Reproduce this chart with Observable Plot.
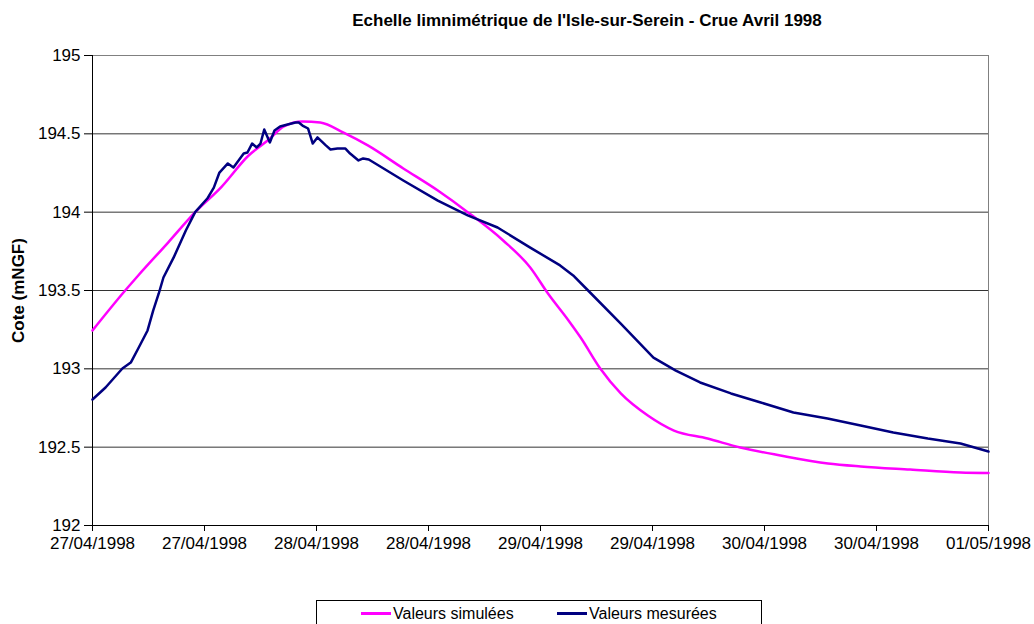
<!DOCTYPE html>
<html><head><meta charset="utf-8">
<script src="https://cdn.jsdelivr.net/npm/d3@7"></script>
<script src="https://cdn.jsdelivr.net/npm/@observablehq/plot@0.6"></script>
<style>
body{margin:0;background:#fff;font-family:"Liberation Sans",Arial,sans-serif;}
#wrap{position:relative;width:1034px;height:624px;overflow:hidden;background:#fff;}
#title{position:absolute;left:140px;width:894px;top:11px;text-align:center;font-weight:bold;font-size:17px;line-height:20px;color:#000;}
#chart{position:absolute;left:0;top:0;}
#legend{position:absolute;left:316px;top:600px;width:446px;height:40px;border:1px solid #000;box-sizing:border-box;}
.li{position:absolute;top:3px;font-size:16px;line-height:20px;color:#000;white-space:nowrap;}
.sw{display:inline-block;width:30px;height:3px;vertical-align:middle;margin-right:2px;position:relative;top:-1px;}
</style>
</head><body>
<div id="wrap">
  <div id="chart"></div>
  <div id="title"></div>
  <div id="legend"></div>
</div>
<script>
const chartTitle = "Echelle limnimétrique de l'Isle-sur-Serein - Crue Avril 1998";
const yLabel = "Cote (mNGF)";
const seriesNames = ["Valeurs simulées", "Valeurs mesurées"];
const seriesColors = ["#FF00FF", "#000080"];
const startDate = Date.UTC(1998, 3, 27);
const xTickHours = [0, 12, 24, 36, 48, 60, 72, 84, 96];
const yTicks = [192, 192.5, 193, 193.5, 194, 194.5, 195];
const gridValues = [192.5, 193, 193.5, 194, 194.5];

// Simulated values (hours since 27/04/1998 00:00)
const simHours = [0, 3.5, 4.9, 8.1, 11.0, 13.8, 16.7, 18.9, 20.5, 22.5, 24.4, 26.9, 29.5, 33.3, 37.0, 40.2, 44.0, 46.9, 48.8, 51.0, 52.3, 54.4, 56.6, 59.5, 62.3, 65.9, 69.4, 73.7, 78.8, 82.3, 87.6, 93.0, 96];
const simValues = [193.245, 193.5, 193.596, 193.806, 194.0, 194.16, 194.36, 194.464, 194.547, 194.579, 194.572, 194.508, 194.426, 194.279, 194.138, 194.0, 193.819, 193.647, 193.481, 193.309, 193.2, 193.002, 192.843, 192.702, 192.606, 192.555, 192.498, 192.447, 192.396, 192.377, 192.357, 192.338, 192.335];

// Measured values
const mesHours = [0, 1.4, 3.2, 4.1, 4.9, 5.9, 6.5, 7.1, 7.6, 8.7, 10.0, 11.0, 12.3, 13.0, 13.6, 14.5, 15.1, 16.2, 16.6, 17.1, 17.6, 18.0, 18.4, 19.0, 19.5, 20.1, 20.9, 21.75, 22.1, 22.5, 23.1, 23.6, 24.1, 25.0, 25.5, 26.25, 27.1, 27.6, 28.5, 29.0, 29.6, 33.3, 37.0, 40.2, 43.4, 46.9, 50.1, 51.5, 53.1, 56.6, 60.1, 62.5, 65.1, 68.4, 71.6, 75.1, 78.75, 82.3, 85.8, 89.5, 93.0, 96];
const mesValues = [192.804, 192.881, 193.002, 193.04, 193.13, 193.245, 193.372, 193.481, 193.583, 193.711, 193.883, 194.0, 194.087, 194.157, 194.253, 194.311, 194.285, 194.374, 194.381, 194.438, 194.413, 194.438, 194.528, 194.445, 194.521, 194.547, 194.56, 194.572, 194.572, 194.553, 194.534, 194.438, 194.477, 194.426, 194.4, 194.406, 194.406, 194.374, 194.33, 194.343, 194.336, 194.202, 194.074, 193.979, 193.902, 193.774, 193.66, 193.596, 193.5, 193.289, 193.072, 192.989, 192.913, 192.843, 192.785, 192.721, 192.683, 192.638, 192.594, 192.555, 192.523, 192.472];

const toDate = h => new Date(startDate + h * 3600e3);
const sim = simHours.map((h, i) => ({date: toDate(h), value: simValues[i]}));
const mes = mesHours.map((h, i) => ({date: toDate(h), value: mesValues[i]}));
const xTicks = xTickHours.map(toDate);
const fmt = d3.utcFormat("%d/%m/%Y");

const plot = Plot.plot({
  width: 1034,
  height: 570,
  marginLeft: 92,
  marginRight: 46,
  marginTop: 55,
  marginBottom: 45,
  style: {fontFamily: "'Liberation Sans', Arial, sans-serif", fontSize: "17px", color: "#000", background: "#fff"},
  x: {type: "utc", domain: [xTicks[0], xTicks[xTicks.length - 1]]},
  y: {domain: [192, 195]},
  marks: [
    Plot.ruleY(gridValues, {stroke: "#000", strokeWidth: 1, strokeOpacity: 0.8}),
    Plot.ruleY([195], {stroke: "#808080", strokeWidth: 1}),
    Plot.ruleX([xTicks[xTicks.length - 1]], {stroke: "#808080", strokeWidth: 1}),
    Plot.ruleX([xTicks[0]], {stroke: "#000", strokeWidth: 1}),
    Plot.ruleY([192], {stroke: "#000", strokeWidth: 1}),
    Plot.axisY({ticks: yTicks, tickFormat: d => String(d), tickSize: 8, tickPadding: 4, fontSize: 17, label: null}),
    Plot.axisX({ticks: xTicks, tickFormat: fmt, tickSize: 6, tickPadding: 5, fontSize: 17, label: null}),
    Plot.text([yLabel], {frameAnchor: "left", dx: -74, rotate: -90, textAnchor: "middle", fontWeight: "bold", fontSize: 17}),
    Plot.line(sim, {x: "date", y: "value", stroke: seriesColors[0], strokeWidth: 2.5, curve: "monotone-x"}),
    Plot.line(mes, {x: "date", y: "value", stroke: seriesColors[1], strokeWidth: 2.5})
  ]
});
document.getElementById("chart").appendChild(plot);
document.getElementById("title").textContent = chartTitle;

const legend = document.getElementById("legend");
const legendX = [44, 240];
seriesNames.forEach((name, i) => {
  const item = document.createElement("div");
  item.className = "li";
  item.style.left = legendX[i] + "px";
  const sw = document.createElement("span");
  sw.className = "sw";
  sw.style.background = seriesColors[i];
  item.appendChild(sw);
  item.appendChild(document.createTextNode(name));
  legend.appendChild(item);
});
</script>
</body></html>
